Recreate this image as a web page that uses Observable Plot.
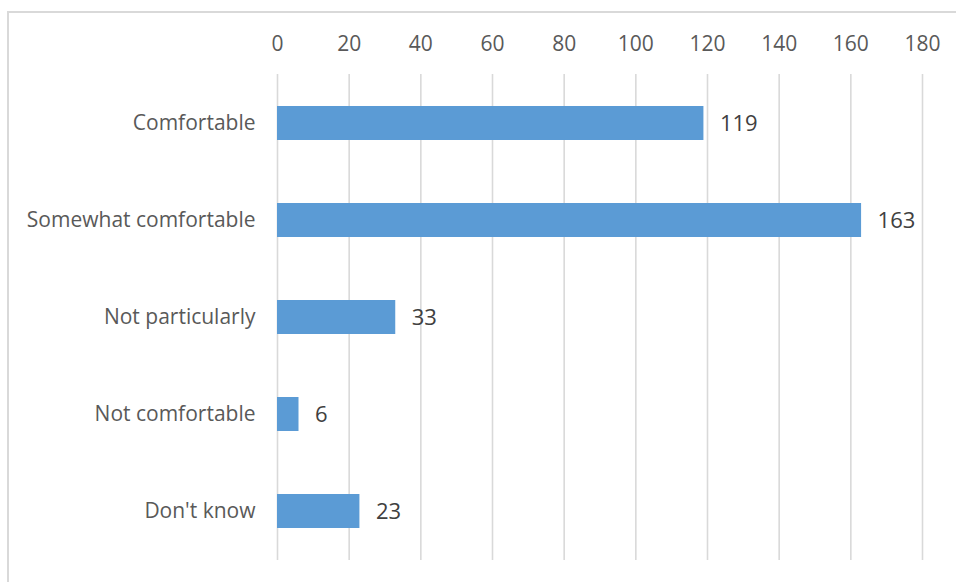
<!DOCTYPE html>
<html>
<head>
<meta charset="utf-8">
<script src="https://cdn.jsdelivr.net/npm/d3@7"></script>
<script src="https://cdn.jsdelivr.net/npm/@observablehq/plot@0.6"></script>
<style>
  html, body { margin: 0; padding: 0; background: #fff; }
  #wrap { position: relative; width: 956px; height: 582px; overflow: hidden; }
  #frame { position: absolute; left: 7px; top: 11px; width: 1000px; height: 1000px; border: 2px solid #d9d9d9; box-sizing: border-box; pointer-events: none; }
  svg { position: absolute; left: 0; top: 0; }
</style>
</head>
<body>
<div id="wrap"><div id="frame"></div></div>
<script>
const categories = ["Comfortable", "Somewhat comfortable", "Not particularly", "Not comfortable", "Don't know"];
const counts = [119, 163, 33, 6, 23];
const xTicks = [0, 20, 40, 60, 80, 100, 120, 140, 160, 180];

const data = categories.map((c, i) => ({category: c, count: counts[i]}));

const chart = Plot.plot({
  width: 956,
  height: 582,
  marginTop: 74,
  marginBottom: 22,
  marginLeft: 277,
  marginRight: 34,
  style: {fontFamily: "'Open Sans', sans-serif", fontSize: "20px", color: "#595959", background: "transparent"},
  x: {domain: [0, 180], ticks: xTicks, axis: null},
  y: {domain: categories, paddingInner: 0.65, paddingOuter: 0.325, axis: null},
  marks: [
    Plot.gridX(xTicks, {stroke: "#d9d9d9", strokeOpacity: 1, strokeWidth: 1.6}),
    Plot.axisX(xTicks, {anchor: "top", tickSize: 0, tickPadding: 24, label: null, fill: "#595959", fontSize: 21}),
    Plot.axisY({anchor: "left", tickSize: 0, tickPadding: 22, label: null, fill: "#595959", fontSize: 21}),
    Plot.barX(data, {x: "count", y: "category", fill: "#5b9bd5"}),
    Plot.text(data, {x: "count", y: "category", text: d => String(d.count), textAnchor: "start", dx: 16, fill: "#404040", fontSize: 22})
  ]
});
document.getElementById("wrap").appendChild(chart);
</script>
</body>
</html>
